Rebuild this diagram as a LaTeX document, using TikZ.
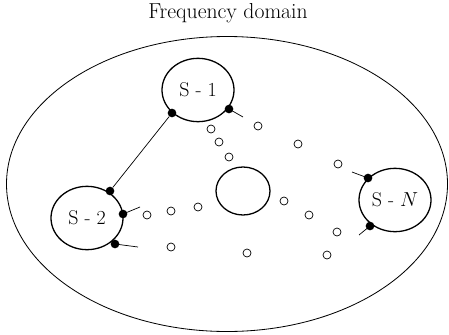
\documentclass[tikz,border=0pt]{standalone}
\usepackage{amsmath}
\usepackage{tikz}
\usetikzlibrary{shapes.geometric}

\begin{document}
\begin{tikzpicture}[x=0.3mm,y=-0.3mm]
\useasboundingbox (0,0) rectangle (449,334);
\tikzset{
  sat/.style={ellipse,draw,line width=1.1pt,inner sep=0pt,minimum width=21.6mm,minimum height=19mm,font=\fontsize{17}{20}\selectfont},
  port/.style={circle,fill=black,inner sep=0pt,minimum size=2.6mm},
  hole/.style={circle,draw,line width=0.6pt,inner sep=0pt,minimum size=2.4mm},
}
%% title and domain
\node (title) at (228,13) {\fontsize{18.5}{22}\selectfont Frequency domain};
\draw [line width=0.7pt] (227,184) ellipse (220.5 and 147.5);
%% subsystems
\node [sat] (s1) at (198,90) {S - 1};
\node [sat] (s2) at (87,218) {S - 2};
\node [sat] (sn) at (395,200) {S - $N$};
\node [ellipse,draw,line width=1.1pt,inner sep=0pt,minimum width=16.2mm,minimum height=14.4mm] (c) at (243,191) {};
%% ports
\node [port] (p1a) at (172,113) {};
\node [port] (p1b) at (229,109) {};
\node [port] (p2a) at (110,191) {};
\node [port] (p2b) at (123,214) {};
\node [port] (p2c) at (115,244) {};
\node [port] (pna) at (368,178) {};
\node [port] (pnb) at (370,226) {};
\coordinate (e1b) at (243,117);
\coordinate (e2b) at (140,207);
\coordinate (e2c) at (138,247);
\coordinate (ena) at (352,172);
\coordinate (enb) at (359,235);
\draw [line width=0.6pt] (p1a) -- (p2a);
\draw [line width=0.6pt] (p1b.center) -- (e1b);
\draw [line width=0.6pt] (p2b.center) -- (e2b);
\draw [line width=0.6pt] (p2c.center) -- (e2c);
\draw [line width=0.6pt] (pna.center) -- (ena);
\draw [line width=0.6pt] (pnb.center) -- (enb);
%% open circles
\foreach \x/\y [count=\i] in {211/129,219/142,229/157,258/126,298/144,338/164,147/215,171/211,198/207,284/201,309/215,337/232,327/255,247/253,171/247}
  \node [hole] (h\i) at (\x,\y) {};
\end{tikzpicture}
\end{document}
